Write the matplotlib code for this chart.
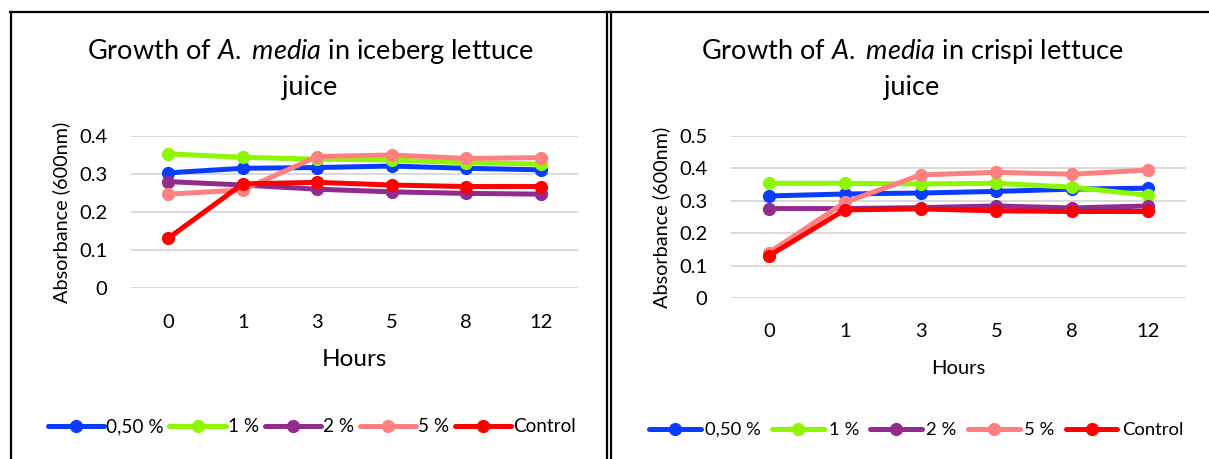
import matplotlib.pyplot as plt
from matplotlib.lines import Line2D

plt.rcParams['font.family'] = ['Lato', 'DejaVu Sans']
plt.rcParams['mathtext.fontset'] = 'custom'
plt.rcParams['mathtext.rm'] = 'Lato'
plt.rcParams['mathtext.it'] = 'Lato:italic'

hours = ['0', '1', '3', '5', '8', '12']
series_names = ['0,50 %', '1 %', '2 %', '5 %', 'Control']
colors = ['#0a3cff', '#8cf700', '#922b8e', '#ff8080', '#ff0000']

# absorbance at 600 nm, iceberg lettuce juice
iceberg_050 = [0.303, 0.315, 0.317, 0.321, 0.315, 0.311]
iceberg_1 = [0.353, 0.344, 0.339, 0.337, 0.330, 0.326]
iceberg_2 = [0.280, 0.271, 0.260, 0.253, 0.249, 0.247]
iceberg_5 = [0.247, 0.258, 0.346, 0.350, 0.341, 0.343]
iceberg_ctrl = [0.131, 0.274, 0.278, 0.271, 0.267, 0.267]

# absorbance at 600 nm, crispi lettuce juice
crispi_050 = [0.315, 0.321, 0.324, 0.329, 0.336, 0.339]
crispi_1 = [0.354, 0.354, 0.352, 0.354, 0.342, 0.317]
crispi_2 = [0.276, 0.276, 0.279, 0.284, 0.278, 0.284]
crispi_5 = [0.140, 0.295, 0.380, 0.388, 0.382, 0.395]
crispi_ctrl = [0.130, 0.272, 0.275, 0.269, 0.267, 0.267]

W, H = 1209, 459
fig = plt.figure(figsize=(W / 100, H / 100), dpi=100)


def box(x0, y0, x1, y1):
    # pixel box (top-left origin) -> figure fraction rect
    return [x0 / W, 1 - y1 / H, (x1 - x0) / W, (y1 - y0) / H]


def draw_panel(rect, data, ymax, title_lines, title_x, xpad, ylabel_x, xlabel_size, xlabel_y,
               legend_x, legend_y, legend_size, legend_hl, legend_cs, legend_tp):
    ax = fig.add_axes(rect)
    x = range(len(hours))
    for vals, name, c in zip(data, series_names, colors):
        ax.plot(x, vals, color=c, lw=3.6, marker='o', ms=8.5, label=name,
                solid_capstyle='round', solid_joinstyle='round')
    n = int(round(ymax * 10))
    ax.set_xlim(-0.5, len(hours) - 0.5)
    ax.set_ylim(0, ymax)
    ax.set_yticks([i / 10 for i in range(n + 1)])
    ax.set_yticklabels(['0'] + [f'{i / 10:.1f}' for i in range(1, n + 1)])
    ax.set_xticks(list(x))
    ax.set_xticklabels(hours)
    ax.tick_params(axis='y', length=0, pad=17, labelsize=14.5)
    ax.tick_params(axis='x', length=0, pad=xpad, labelsize=14.5)
    ax.grid(axis='y', color='#d9d9d9', lw=1.4)
    ax.set_axisbelow(True)
    for s in ax.spines.values():
        s.set_visible(False)
    ax.set_ylabel('Absorbance (600nm)', fontsize=14.3)
    ax.yaxis.set_label_coords(ylabel_x, 0.5)
    ax.set_xlabel('Hours', fontsize=xlabel_size)
    ax.xaxis.set_label_coords(0.5, xlabel_y)
    ax.legend(loc='center', bbox_to_anchor=(legend_x, legend_y), ncol=5, frameon=False,
              fontsize=legend_size, handlelength=legend_hl, handletextpad=legend_tp,
              columnspacing=legend_cs, borderaxespad=0)
    # two-line title centred over the whole panel
    for txt, ypix in zip(title_lines, [52, 88]):
        fig.text(title_x / W, 1 - ypix / H, txt, fontsize=19.5, ha='center', va='center')
    return ax


draw_panel(box(131, 136, 578, 288),
           [iceberg_050, iceberg_1, iceberg_2, iceberg_5, iceberg_ctrl], 0.4,
           ['Growth of $\\it{A.\\ media}$ in iceberg lettuce', 'juice'], 310,
           19, -0.135, 17.5, -0.40, 0.405, -0.914, 13.7, 2.95, 0.3, 0.12)

draw_panel(box(731, 136, 1186, 298),
           [crispi_050, crispi_1, crispi_2, crispi_5, crispi_ctrl], 0.5,
           ['Growth of $\\it{A.\\ media}$ in crispi lettuce', 'juice'], 912,
           18, -0.133, 14.5, -0.38, 0.407, -0.815, 13.3, 2.8, 0.6, 0.25)


# frame lines around the two panels
def fig_line(xs, ys, lw=1.6):
    fig.add_artist(Line2D([v / W for v in xs], [1 - v / H for v in ys],
                          color='black', lw=lw, transform=fig.transFigure))


fig_line([10, W], [12, 12])
fig_line([11, 11], [12, H])
fig_line([607, 607], [12, H])
fig_line([611, 611], [12, H])

fig.savefig('out.png', dpi=100)
